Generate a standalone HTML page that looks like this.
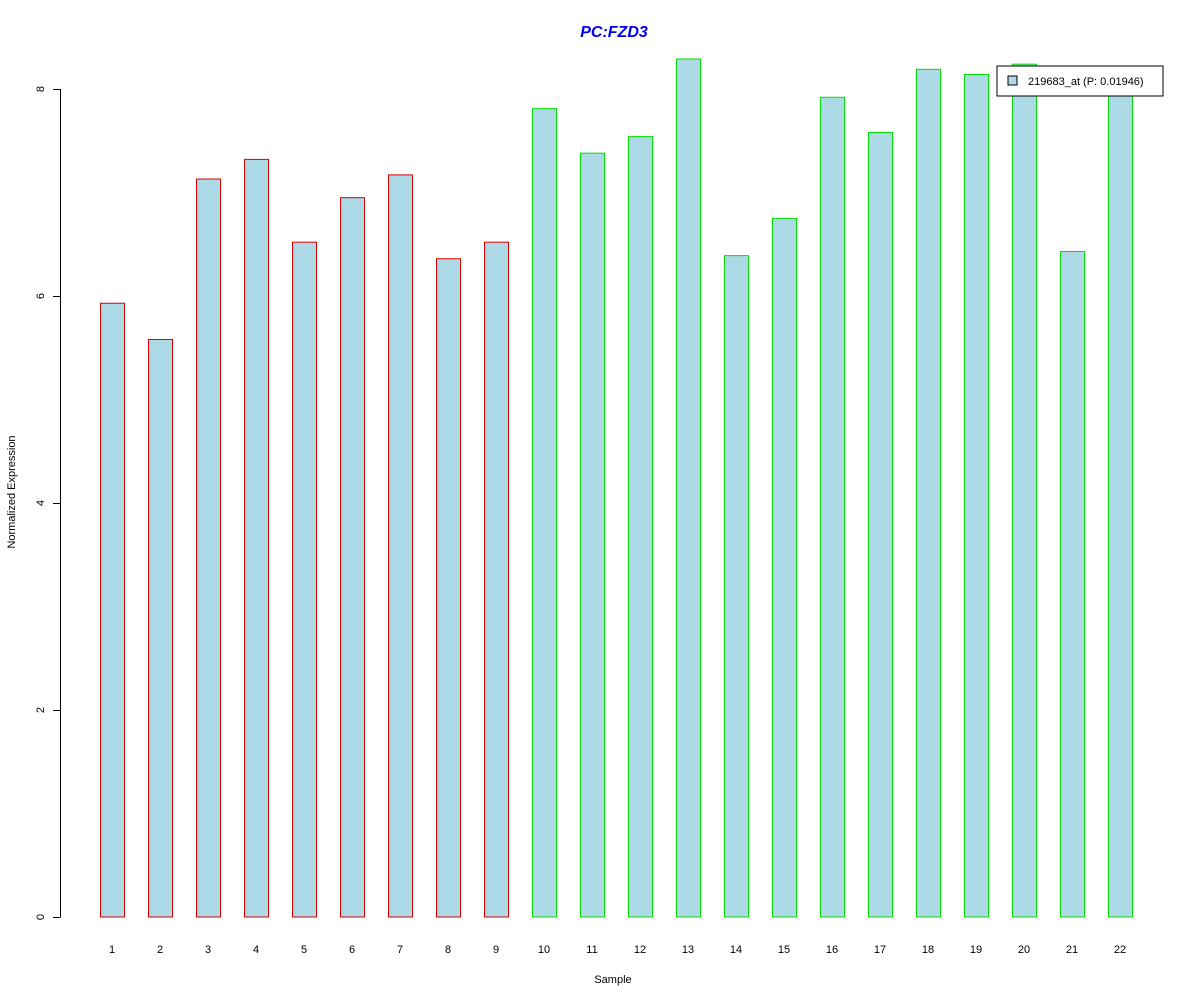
<!DOCTYPE html>
<html><head><meta charset="utf-8"><style>
body{margin:0;background:#fff;}
svg{display:block;font-family:"Liberation Sans",Arial,sans-serif;}
</style></head><body>
<svg id="chart" width="1200" height="1000" viewBox="0 0 1200 1000">
<text x="614" y="37" text-anchor="middle" font-size="16" font-weight="bold" font-style="italic" fill="#0000ee">PC:FZD3</text>
<g id="bars"></g>
<g id="yaxis"></g>
<g id="xlabels"></g>
<text x="613" y="983" text-anchor="middle" font-size="11">Sample</text>
<text transform="translate(15,492) rotate(-90)" text-anchor="middle" font-size="11">Normalized Expression</text>
<g>
<rect x="997" y="66" width="166" height="30" fill="#fff" stroke="#000"/>
<rect x="1008" y="76" width="9" height="9" fill="#add8e6" stroke="#000"/>
<text x="1028" y="85" font-size="11">219683_at (P: 0.01946)</text>
</g>
</svg>
<script>
const categories=["1","2","3","4","5","6","7","8","9","10","11","12","13","14","15","16","17","18","19","20","21","22"];
const values=[5.93,5.58,7.13,7.32,6.52,6.95,7.17,6.36,6.52,7.81,7.38,7.54,8.29,6.39,6.75,7.92,7.58,8.19,8.14,8.24,6.43,7.97];
const groups=["PC","PC","PC","PC","PC","PC","PC","PC","PC","N","N","N","N","N","N","N","N","N","N","N","N","N"];
const yTicks=[0,2,4,6,8];
const NS="http://www.w3.org/2000/svg";
const y=v=>917-v*103.5;
const x=i=>100+i*48;
const bars=document.getElementById('bars');
values.forEach((v,i)=>{
  const r=document.createElementNS(NS,'rect');
  
  
  r.setAttribute('x',x(i)+0.5);r.setAttribute('y',y(v));
  r.setAttribute('width',24);r.setAttribute('height',917-y(v));
  r.setAttribute('fill','#add8e6');
  r.setAttribute('stroke',groups[i]==="PC"?'#dd0000':'#00dd00');
  bars.appendChild(r);
  const t=document.createElementNS(NS,'text');
  
  
  t.setAttribute('x',x(i)+12);t.setAttribute('y',953);
  t.setAttribute('text-anchor','middle');t.setAttribute('font-size','11');
  t.textContent=categories[i];
  document.getElementById('xlabels').appendChild(t);
});
const ya=document.getElementById('yaxis');
const l=document.createElementNS(NS,'line');


l.setAttribute('x1',60.5);l.setAttribute('x2',60.5);l.setAttribute('y1',y(0));l.setAttribute('y2',y(8));
l.setAttribute('stroke','#000');ya.appendChild(l);
yTicks.forEach(v=>{
  const tk=document.createElementNS(NS,'line');
  
  
  tk.setAttribute('x1',53);tk.setAttribute('x2',60.5);tk.setAttribute('y1',y(v)+0.5);tk.setAttribute('y2',y(v)+0.5);
  tk.setAttribute('stroke','#000');ya.appendChild(tk);
  const t=document.createElementNS(NS,'text');
  
  
  t.setAttribute('transform','translate(44,'+y(v)+') rotate(-90)');
  t.setAttribute('text-anchor','middle');t.setAttribute('font-size','11');
  t.textContent=v;ya.appendChild(t);
});
</script>
</body></html>
